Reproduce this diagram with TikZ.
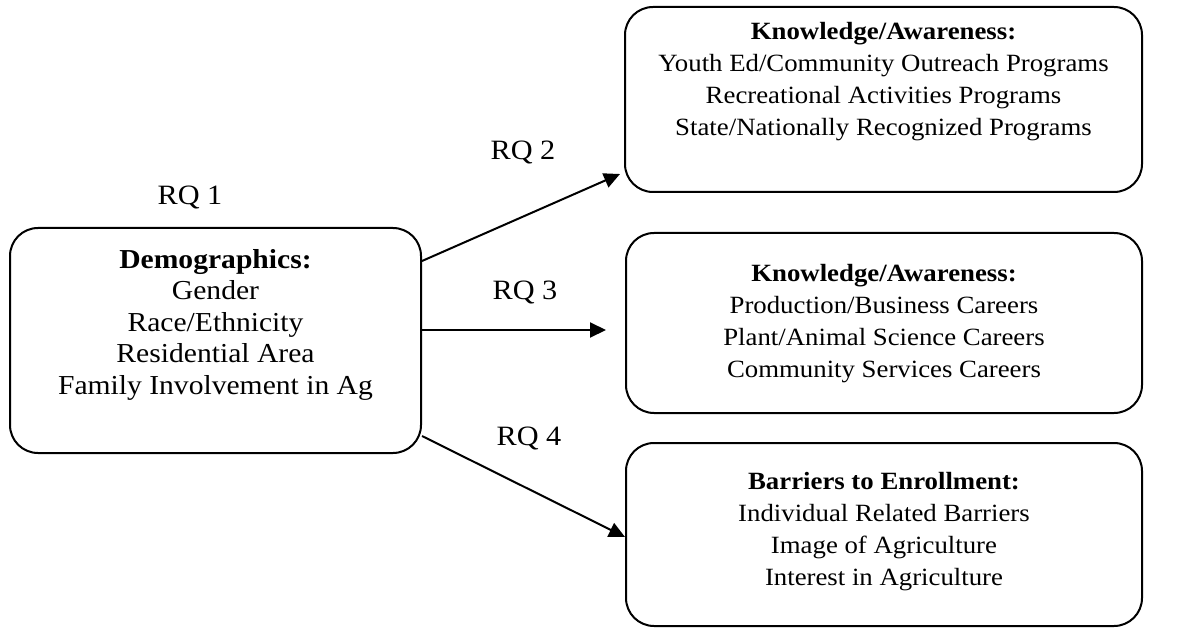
\documentclass[tikz,border=0pt]{standalone}
\usepackage{fontspec}
\setmainfont[FakeStretch=1.08]{Liberation Serif}
\usetikzlibrary{arrows.meta}
\begin{document}
\begin{tikzpicture}[x=1pt,y=-1pt,
  box/.style={draw, line width=2pt, rounded corners=28pt, inner sep=0pt},
  txt/.style={align=center, inner sep=0pt, font=\fontsize{27.4}{31.6}\selectfont},
  rtxt/.style={align=center, inner sep=0pt, font=\fontsize{24.8}{32}\selectfont},
  lbl/.style={anchor=base, inner sep=0pt, font=\fontsize{28}{32}\selectfont},
  arr/.style={line width=2pt, -{Triangle[length=16pt,width=15pt]}}]
\useasboundingbox (0,0) rectangle (1199,628);
% boxes
\node[box, minimum width=411pt, minimum height=225pt] (demo) at (215.5,340.5) {};
\node[box, minimum width=517pt, minimum height=185pt] (k1) at (883.5,99.5) {};
\node[box, minimum width=516pt, minimum height=180pt] (k2) at (884,323) {};
\node[box, minimum width=516pt, minimum height=183pt] (bar) at (884,534.5) {};
% texts
\node[txt] (demot) at (215.5,325) {\strut\textbf{Demographics:}\\\strut Gender\\\strut Race/Ethnicity\\\strut Residential Area\\\strut Family Involvement in Ag};
\node[rtxt] (k1t) at (883.5,81) {\strut\textbf{Knowledge/Awareness:}\\\strut Youth Ed/Community Outreach Programs\\\strut Recreational Activities Programs\\\strut State/Nationally Recognized Programs};
\node[rtxt] (k2t) at (884,323) {\strut\textbf{Knowledge/Awareness:}\\\strut Production/Business Careers\\\strut Plant/Animal Science Careers\\\strut Community Services Careers};
\node[rtxt] (bart) at (884,531) {\strut\textbf{Barriers to Enrollment:}\\\strut Individual Related Barriers\\\strut Image of Agriculture\\\strut Interest in Agriculture};
% labels
\node[lbl] (rq1) at (190,205) {RQ 1};
\node[lbl] (rq2) at (523,160) {RQ 2};
\node[lbl] (rq3) at (525,300) {RQ 3};
\node[lbl] (rq4) at (529,445) {RQ 4};
% arrows
\draw[arr] ([yshift=79.5pt]demo.east) -- ([xshift=-4pt,yshift=-74.5pt]k1.west);
\draw[arr] ([yshift=10.5pt]demo.east) -- ([xshift=-19pt,yshift=-7pt]k2.west);
\draw[arr] ([yshift=-95.5pt]demo.east) -- ([yshift=-2.5pt]bar.west);
\end{tikzpicture}
\end{document}
